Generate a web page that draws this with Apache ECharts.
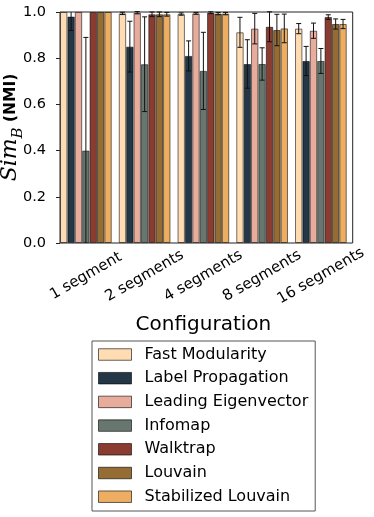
<!DOCTYPE html>
<html>
<head>
<meta charset="utf-8">
<script src="https://cdn.jsdelivr.net/npm/echarts@6/dist/echarts.min.js"></script>
<style>
html,body{margin:0;padding:0;background:#fff;}
#chart{width:374px;height:517px;}
</style>
</head>
<body>
<div id="chart"></div>
<script>
const categories = ['1 segment', '2 segments', '4 segments', '8 segments', '16 segments'];
const methods = ['Fast Modularity', 'Label Propagation', 'Leading Eigenvector', 'Infomap', 'Walktrap', 'Louvain', 'Stabilized Louvain'];
const yTicks = [0.0, 0.2, 0.4, 0.6, 0.8, 1.0];

const fastModularity       = [1.000, 0.994, 0.991, 0.912, 0.928];
const fastModularityErr    = [0.000, 0.005, 0.005, 0.065, 0.022];
const labelPropagation     = [0.980, 0.850, 0.810, 0.775, 0.788];
const labelPropagationErr  = [0.060, 0.110, 0.065, 0.105, 0.063];
const leadingEigenvector   = [1.000, 0.997, 0.994, 0.928, 0.919];
const leadingEigenvectorErr= [0.000, 0.005, 0.004, 0.066, 0.033];
const infomap              = [0.400, 0.774, 0.745, 0.775, 0.788];
const infomapErr           = [0.490, 0.205, 0.167, 0.070, 0.054];
const walktrap             = [1.000, 0.990, 0.997, 0.936, 0.978];
const walktrapErr          = [0.000, 0.010, 0.004, 0.065, 0.010];
const louvain              = [1.000, 0.990, 0.993, 0.922, 0.948];
const louvainErr           = [0.000, 0.010, 0.005, 0.068, 0.022];
const stabilizedLouvain    = [1.000, 0.990, 0.993, 0.929, 0.948];
const stabilizedLouvainErr = [0.000, 0.008, 0.005, 0.062, 0.020];

const seriesValues = [fastModularity, labelPropagation, leadingEigenvector, infomap, walktrap, louvain, stabilizedLouvain];
const seriesErrors = [fastModularityErr, labelPropagationErr, leadingEigenvectorErr, infomapErr, walktrapErr, louvainErr, stabilizedLouvainErr];
const colors = ['#FFDCB2', '#243746', '#E8AC9C', '#67776F', '#8B3C31', '#966C35', '#EEAE61'];

const CAT_GAP = 0.12;
const FONT = 'DejaVu Sans';

const series = [];
methods.forEach((m, si) => {
  series.push({
    name: m, type: 'bar', xAxisIndex: 0, yAxisIndex: 0,
    data: seriesValues[si],
    barGap: '0%', barCategoryGap: (CAT_GAP * 100) + '%',
    itemStyle: { color: colors[si], borderColor: 'rgba(0,0,0,0.55)', borderWidth: 1 },
    emphasis: { disabled: true }
  });
});
methods.forEach((m, si) => {
  const n = methods.length;
  series.push({
    name: m + ' err', type: 'custom', xAxisIndex: 0, yAxisIndex: 0, z: 10, silent: true,
    data: seriesValues[si].map((v, i) => [i, v, seriesErrors[si][i]]),
    renderItem: function (params, api) {
      const ci = api.value(0), v = api.value(1), e = api.value(2);
      if (!(e > 0)) return { type: 'group', children: [] };
      const band = api.size([1, 0])[0];
      const bw = band * (1 - CAT_GAP) / n;
      const cx = api.coord([ci, v])[0] + (si - (n - 1) / 2) * bw;
      const cs = params.coordSys;
      const top = cs.y, bot = cs.y + cs.height;
      const yHi = api.coord([ci, v + e])[1];
      const yLo = api.coord([ci, v - e])[1];
      const y1 = Math.max(yHi, top), y2 = Math.min(yLo, bot);
      const st = { stroke: '#111', lineWidth: 1 };
      const ch = [{ type: 'line', shape: { x1: cx, y1: y1, x2: cx, y2: y2 }, style: st }];
      const cap = 2.5;
      if (yHi >= top - 0.5) ch.push({ type: 'line', shape: { x1: cx - cap, y1: yHi, x2: cx + cap, y2: yHi }, style: st });
      if (yLo <= bot + 0.5) ch.push({ type: 'line', shape: { x1: cx - cap, y1: yLo, x2: cx + cap, y2: yLo }, style: st });
      return { type: 'group', children: ch };
    }
  });
});

const option = {
  animation: false,
  backgroundColor: '#fff',
  textStyle: { fontFamily: FONT },
  grid: [
    { left: 56.5, right: 23.75, top: 12, bottom: 274, containLabel: false, outerBoundsMode: 'none' },
    { left: 60, right: 21.3, top: 12, bottom: 274, containLabel: false, outerBoundsMode: 'none', show: true, borderColor: '#222', borderWidth: 1, backgroundColor: 'transparent', z: 5 }
  ],
  xAxis: [
    {
      type: 'category', gridIndex: 0, data: categories,
      axisLine: { show: false }, axisTick: { show: false },
      axisLabel: { interval: 0, rotate: 30, align: 'center', verticalAlign: 'middle', margin: 33, fontSize: 15, color: '#000', fontFamily: FONT, hideOverlap: false },
      name: 'Configuration', nameLocation: 'middle', nameGap: 72, nameMoveOverlap: false,
      nameTextStyle: { fontSize: 20, color: '#000', fontFamily: FONT }
    },
    { type: 'category', gridIndex: 1, data: categories, show: false }
  ],
  yAxis: [
    {
      type: 'value', gridIndex: 0, min: 0, max: 1, interval: 0.2,
      axisLine: { show: false },
      axisTick: { show: false },
      splitLine: { show: false },
      axisLabel: { margin: 10.5, align: 'right', fontSize: 14.5, color: '#000', fontFamily: FONT, formatter: v => v.toFixed(1) },
      name: '{s|Sim}{b|B}{n| (NMI)}', nameLocation: 'middle', nameRotate: 90, nameGap: 31, nameMoveOverlap: false,
      nameTextStyle: {
        rich: {
          s: { fontFamily: 'DejaVu Serif', fontStyle: 'italic', fontSize: 22, lineHeight: 30, color: '#000' },
          b: { fontFamily: 'DejaVu Serif', fontStyle: 'italic', fontSize: 15, lineHeight: 15, verticalAlign: 'bottom', color: '#000' },
          n: { fontFamily: FONT, fontWeight: 'bold', fontSize: 15.5, lineHeight: 30, color: '#000' }
        }
      }
    },
    {
      type: 'value', gridIndex: 1, min: 0, max: 1, interval: 0.2,
      axisLine: { show: false },
      axisTick: { show: true, inside: false, length: 4, lineStyle: { color: '#222' } },
      splitLine: { show: false },
      axisLabel: { show: false }
    }
  ],
  legend: {
    data: methods, orient: 'vertical', left: 92, top: 341,
    itemWidth: 33, itemHeight: 11.5, itemGap: 3.7,
    padding: [3.5, 7, 4.3, 6],
    borderColor: '#555', borderWidth: 1,
    icon: 'rect',
    itemStyle: { borderColor: 'rgba(0,0,0,0.6)', borderWidth: 1 },
    textStyle: { fontSize: 16, fontFamily: FONT, color: '#000', lineHeight: 20, padding: [0, 0, 0, 8] },
    selectedMode: false
  },
  series: series
};

const chart = echarts.init(document.getElementById('chart'), null, { renderer: 'canvas' });
chart.setOption(option);
</script>
</body>
</html>
